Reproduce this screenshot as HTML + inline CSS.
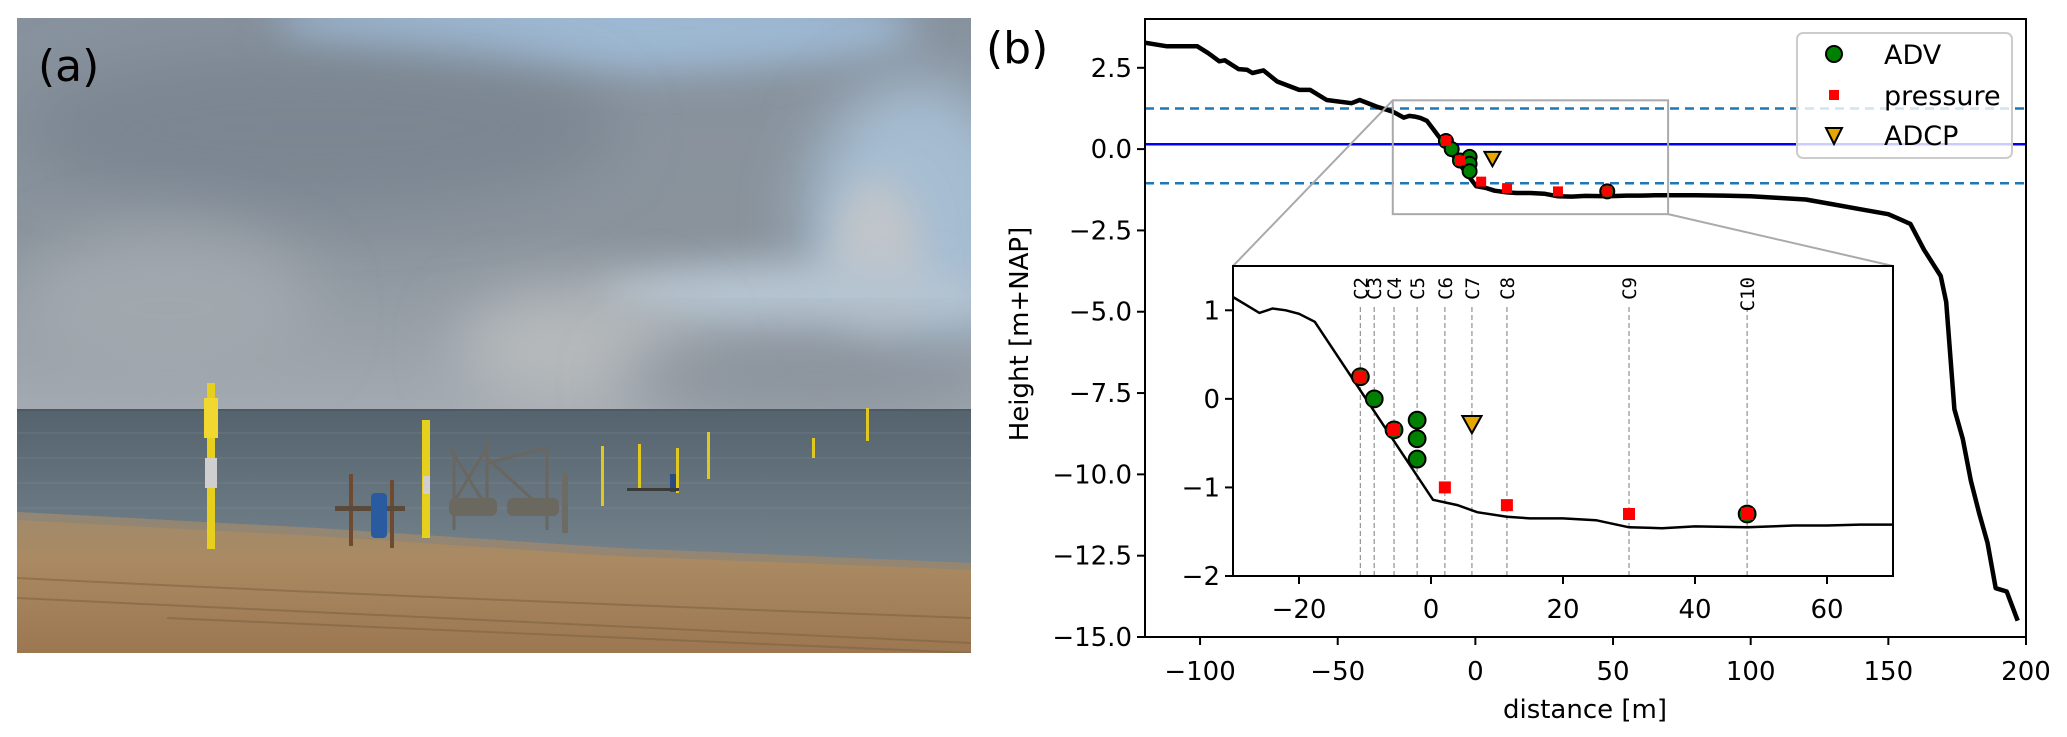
<!DOCTYPE html>
<html><head><meta charset="utf-8"><style>
html,body{margin:0;padding:0;background:#fff;width:2067px;height:737px;overflow:hidden;}
svg{display:block;font-family:"DejaVu Sans","Liberation Sans",sans-serif;}
</style></head><body>
<svg id="fig" width="2067" height="737" viewBox="0 0 2067 737" xmlns="http://www.w3.org/2000/svg">
<defs>
<linearGradient id="sky" x1="0" y1="0" x2="0" y2="1">
<stop offset="0" stop-color="#87929e"/><stop offset="0.55" stop-color="#8a939c"/><stop offset="1" stop-color="#a3aab1"/></linearGradient>
<linearGradient id="sea" x1="0" y1="0" x2="0" y2="1">
<stop offset="0" stop-color="#55636e"/><stop offset="1" stop-color="#76848e"/></linearGradient>
<linearGradient id="sand" x1="0" y1="0" x2="0" y2="1">
<stop offset="0" stop-color="#a08a6c"/><stop offset="0.35" stop-color="#aa8a62"/><stop offset="1" stop-color="#9c7751"/></linearGradient>
<filter id="blur" x="-50%" y="-50%" width="200%" height="200%"><feGaussianBlur stdDeviation="30"/></filter>
<filter id="blur2" x="-50%" y="-50%" width="200%" height="200%"><feGaussianBlur stdDeviation="18"/></filter>
<clipPath id="photoClip"><rect x="0" y="0" width="954" height="635"/></clipPath>
<clipPath id="mainClip"><rect x="1145" y="19" width="881" height="618"/></clipPath>
<clipPath id="insetClip"><rect x="1233" y="266" width="660" height="310"/></clipPath>
</defs>

<!-- Photo panel (a) -->
<g transform="translate(17,18)">
<g clip-path="url(#photoClip)">
<rect width="954" height="392" fill="url(#sky)"/>
<ellipse cx="580" cy="10" rx="320" ry="45" fill="#9db8d2" filter="url(#blur2)"/>
<ellipse cx="900" cy="200" rx="110" ry="140" fill="#a6bdd2" filter="url(#blur)"/>
<ellipse cx="860" cy="240" rx="45" ry="80" fill="#c0c5c9" filter="url(#blur2)"/>
<ellipse cx="780" cy="280" rx="200" ry="35" fill="#b5c4d1" filter="url(#blur2)"/>
<ellipse cx="560" cy="330" rx="120" ry="60" fill="#b5b9bc" filter="url(#blur)"/>
<ellipse cx="300" cy="110" rx="300" ry="80" fill="#7c8692" filter="url(#blur)"/>
<ellipse cx="150" cy="290" rx="150" ry="80" fill="#a0a7ad" filter="url(#blur)"/>
<ellipse cx="800" cy="360" rx="200" ry="40" fill="#8a939c" filter="url(#blur)"/>
<rect y="392" width="954" height="160" fill="url(#sea)"/>
<g stroke="#8694a0" stroke-width="1" opacity="0.35">
<line x1="0" y1="415" x2="954" y2="415"/><line x1="0" y1="440" x2="954" y2="440"/><line x1="0" y1="465" x2="954" y2="465"/><line x1="0" y1="490" x2="954" y2="490"/>
</g>
<line x1="0" y1="392" x2="954" y2="392" stroke="#4d5a64" stroke-width="2"/>
<polygon points="0,494 300,510 600,530 954,545 954,635 0,635" fill="url(#sand)"/>
<polygon points="0,494 300,510 600,530 954,545 954,552 600,538 300,518 0,502" fill="#8b8478" opacity="0.7"/>
<g fill="none" stroke="#7a5f40" stroke-width="2" opacity="0.5">
<path d="M0,560 Q400,580 954,600"/><path d="M0,580 Q400,600 954,625"/><path d="M150,600 Q500,615 954,635"/>
</g>
<!-- instruments -->
<rect x="190" y="365" width="8" height="166" fill="#e7cf1e"/>
<rect x="187" y="380" width="14" height="40" fill="#f0d830"/>
<rect x="188" y="440" width="12" height="30" fill="#cfcfcf"/>
<rect x="405" y="402" width="8" height="118" fill="#e7cf1e"/>
<rect x="406" y="458" width="7" height="18" fill="#cfcfcf"/>
<rect x="332" y="456" width="4" height="72" fill="#6d4a30"/>
<rect x="373" y="462" width="4" height="68" fill="#6d4a30"/>
<rect x="318" y="488" width="70" height="5" fill="#5a4a3a"/>
<rect x="354" y="475" width="16" height="45" rx="4" fill="#2a5aa0"/>
<g stroke="#6a6660" stroke-width="3" fill="none">
<path d="M433,430 L470,490 M470,430 L433,490 M470,445 L530,430 M470,440 L525,490"/>
<path d="M437,435 L437,512 M530,430 L530,512 M470,420 L470,480"/>
</g>
<rect x="432" y="480" width="48" height="18" rx="6" fill="#6b6860"/>
<rect x="490" y="480" width="52" height="18" rx="6" fill="#6b6860"/>
<rect x="545" y="455" width="6" height="60" fill="#6e6a64"/>
<rect x="584" y="428" width="3" height="60" fill="#e0c820"/>
<rect x="621" y="426" width="3" height="45" fill="#e0c820"/>
<rect x="659" y="430" width="3" height="45" fill="#e0c820"/>
<rect x="653" y="456" width="6" height="18" fill="#2a4a80"/>
<rect x="610" y="470" width="52" height="3" fill="#3a3a3a"/>
<rect x="690" y="414" width="3" height="47" fill="#e0c820"/>
<rect x="795" y="420" width="3" height="20" fill="#e0c820"/>
<rect x="849" y="390" width="3" height="33" fill="#e0c820"/>
</g>
<text x="21" y="63" font-size="44" fill="#000" font-family="DejaVu Sans, sans-serif">(a)</text>
</g>

<text x="986" y="63" font-size="44" fill="#000">(b)</text>
<g id="chart"></g>
</svg>
<script>
// ---- data ----
var profileX = [-120,-112,-101,-97,-93,-91,-86,-83,-81,-77,-72,-64,-60,-54,-45,-42,-36,-30,-26,-24,-22,-20,-17.6,0.3,4,7,11.5,15,20,25,30,35,40,48,55,60,65,70,80,90,100,110,120,130,140,150,158,163,166,169,171,174,177,180,183,186,189,193,197];
var profileY = [3.27,3.16,3.16,2.95,2.70,2.73,2.46,2.44,2.34,2.42,2.08,1.82,1.82,1.51,1.41,1.51,1.31,1.15,0.97,1.02,1.0,0.96,0.87,-1.14,-1.2,-1.28,-1.33,-1.35,-1.35,-1.37,-1.45,-1.46,-1.44,-1.45,-1.43,-1.43,-1.42,-1.42,-1.42,-1.43,-1.45,-1.5,-1.55,-1.7,-1.85,-2.0,-2.3,-3.1,-3.5,-3.9,-4.7,-8.0,-8.9,-10.2,-11.2,-12.1,-13.5,-13.6,-14.5];
var advX = [-10.7,-8.6,-5.6,-2.1,-2.1,-2.1,47.9];
var advY = [0.25,0.0,-0.35,-0.24,-0.45,-0.68,-1.3];
var pressX = [-10.7,-5.6,2.1,11.5,30,47.9];
var pressY = [0.25,-0.35,-1.0,-1.2,-1.3,-1.3];
var adcpX = [6.2];
var adcpY = [-0.28];
var stationNames = ["C2","C3","C4","C5","C6","C7","C8","C9","C10"];
var stationX = [-10.7,-8.6,-5.6,-2.1,2.1,6.2,11.5,30,47.9];
var waterLevel = [0.15];
var tideLevels = [1.25,-1.05];
var mainXTicks = [-100,-50,0,50,100,150,200];
var mainYTicks = [2.5,0,-2.5,-5,-7.5,-10,-12.5,-15];
var mainYLabels = ["2.5","0.0","\u22122.5","\u22125.0","\u22127.5","\u221210.0","\u221212.5","\u221215.0"];
var insetXTicks = [-20,0,20,40,60];
var insetYTicks = [1,0,-1,-2];
var zoomBox = [-30,70,-2,1.5];

// ---- scales ----
var M = {x0:1145,x1:2026,y0:19,y1:637,xmin:-120,xmax:200,ymin:-15,ymax:4};
var I = {x0:1233,x1:1893,y0:266,y1:576,xmin:-30,xmax:70,ymin:-2,ymax:1.5};
function sx(a,v){return a.x0+(v-a.xmin)*(a.x1-a.x0)/(a.xmax-a.xmin);}
function sy(a,v){return a.y1-(v-a.ymin)*(a.y1-a.y0)/(a.ymax-a.ymin);}
var NS="http://www.w3.org/2000/svg";
var chart=document.getElementById('chart');
function mk(tag,attrs,parent){var e=document.createElementNS(NS,tag);for(var k in attrs)e.setAttribute(k,attrs[k]);(parent||chart).appendChild(e);return e;}
function minus(v){return String(v).replace('-','\u2212');}

function drawMarkers(a,scaleK,grp){
  var r=7*scaleK, s=10*scaleK, t=8*scaleK;
  for(var i=0;i<advX.length;i++){
    var c=mk('circle',{cx:sx(a,advX[i]),cy:sy(a,advY[i]),r:r,fill:'#008000',stroke:'#000','stroke-width':2},grp);
    
    
  }
  for(var j=0;j<pressX.length;j++){
    var q=mk('rect',{x:sx(a,pressX[j])-s/2,y:sy(a,pressY[j])-s/2,width:s,height:s,fill:'#ff0000'},grp);
    
    
  }
  for(var k=0;k<adcpX.length;k++){
    var px=sx(a,adcpX[k]),py=sy(a,adcpY[k]);
    var tr=mk('polygon',{points:(px-t)+','+(py-t*0.8)+' '+(px+t)+','+(py-t*0.8)+' '+px+','+(py+t*1.0),fill:'#e6a800',stroke:'#000','stroke-width':2},grp);
    
    
  }
}
function profilePts(a){var p=[];for(var i=0;i<profileX.length;i++)p.push(sx(a,profileX[i]).toFixed(1)+','+sy(a,profileY[i]).toFixed(1));return p.join(' ');}

// ---- main axes ----
var mainG=mk('g',{});


var mclip=mk('g',{'clip-path':'url(#mainClip)'},mainG);
tideLevels.forEach(function(v){
  var l=mk('line',{x1:M.x0,x2:M.x1,y1:sy(M,v),y2:sy(M,v),stroke:'#1f77b4','stroke-width':2.5,'stroke-dasharray':'9,6'},mclip);
  
  
});
waterLevel.forEach(function(v){
  var l=mk('line',{x1:M.x0,x2:M.x1,y1:sy(M,v),y2:sy(M,v),stroke:'#0000ff','stroke-width':2.5},mclip);
  
  
});
var mline=mk('polyline',{points:profilePts(M),fill:'none',stroke:'#000','stroke-width':4.5,'stroke-linejoin':'round'},mclip);


drawMarkers(M,1,mclip);
var zb=mk('rect',{x:sx(M,zoomBox[0]),y:sy(M,zoomBox[3]),width:sx(M,zoomBox[1])-sx(M,zoomBox[0]),height:sy(M,zoomBox[2])-sy(M,zoomBox[3]),fill:'none',stroke:'#aaaaaa','stroke-width':2},mainG);


var c1=mk('line',{x1:sx(M,zoomBox[0]),y1:sy(M,zoomBox[3]),x2:I.x0,y2:I.y0,stroke:'#aaaaaa','stroke-width':2},mainG);


var c2=mk('line',{x1:sx(M,zoomBox[1]),y1:sy(M,zoomBox[2]),x2:I.x1,y2:I.y0,stroke:'#aaaaaa','stroke-width':2},mainG);


var ms=mk('rect',{x:M.x0,y:M.y0,width:M.x1-M.x0,height:M.y1-M.y0,fill:'none',stroke:'#000','stroke-width':2},mainG);


mainXTicks.forEach(function(v){
  var x=sx(M,v);
  mk('line',{x1:x,x2:x,y1:M.y1,y2:M.y1+8,stroke:'#000','stroke-width':2},mainG);
  var t=mk('text',{x:x,y:M.y1+43,'font-size':26,'text-anchor':'middle',fill:'#000'},mainG);
  t.textContent=minus(v);
  
  
});
mainYTicks.forEach(function(v,i){
  var y=sy(M,v);
  mk('line',{x1:M.x0-8,x2:M.x0,y1:y,y2:y,stroke:'#000','stroke-width':2},mainG);
  var t=mk('text',{x:M.x0-13,y:y+9,'font-size':26,'text-anchor':'end',fill:'#000'},mainG);
  t.textContent=mainYLabels[i];
  
  
});
var xl=mk('text',{x:1585,y:718,'font-size':26,'text-anchor':'middle',fill:'#000'},mainG);
xl.textContent='distance [m]';


var yl=mk('text',{x:0,y:0,'font-size':26,'text-anchor':'middle',fill:'#000',transform:'translate(1028,334) rotate(-90)'},mainG);
yl.textContent='Height [m+NAP]';



// ---- legend ----
var lg=mk('g',{});


mk('rect',{x:1797,y:33,width:215,height:125,rx:6,fill:'#fff','fill-opacity':0.8,stroke:'#cccccc','stroke-width':2},lg);
var le1=mk('circle',{cx:1834,cy:54,r:8,fill:'#008000',stroke:'#000','stroke-width':2},lg);


mk('rect',{x:1829,y:90,width:10,height:10,fill:'#ff0000'},lg);
mk('polygon',{points:'1826,128 1842,128 1834,144',fill:'#e6a800',stroke:'#000','stroke-width':2},lg);
var lt=[['ADV',64],['pressure',105],['ADCP',145]];
lt.forEach(function(p){
  var t=mk('text',{x:1884,y:p[1],'font-size':27,fill:'#000'},lg);
  t.textContent=p[0];
  
  
});

// ---- inset ----
var ig=mk('g',{});


mk('rect',{x:I.x0,y:I.y0,width:I.x1-I.x0,height:I.y1-I.y0,fill:'#fff'},ig);
var iclip=mk('g',{'clip-path':'url(#insetClip)'},ig);
stationX.forEach(function(v,i){
  var x=sx(I,v);
  var l=mk('line',{x1:x,x2:x,y1:I.y1,y2:I.y0+40,stroke:'#999','stroke-width':1.3,'stroke-dasharray':'5,3'},iclip);
  
  
  var t=mk('text',{x:0,y:0,'font-size':19,'font-family':'DejaVu Sans Mono, Liberation Mono, monospace','text-anchor':'end',fill:'#000',transform:'translate('+(x+7)+','+(I.y0+11)+') rotate(-90)'},iclip);
  t.textContent=stationNames[i];
  
  
});
var iline=mk('polyline',{points:profilePts(I),fill:'none',stroke:'#000','stroke-width':2.5},iclip);


drawMarkers(I,1.2,iclip);
var isp=mk('rect',{x:I.x0,y:I.y0,width:I.x1-I.x0,height:I.y1-I.y0,fill:'none',stroke:'#000','stroke-width':2},ig);


insetXTicks.forEach(function(v){
  var x=sx(I,v);
  mk('line',{x1:x,x2:x,y1:I.y1,y2:I.y1+8,stroke:'#000','stroke-width':2},ig);
  var t=mk('text',{x:x,y:I.y1+42,'font-size':26,'text-anchor':'middle',fill:'#000'},ig);
  t.textContent=minus(v);
  
  
});
insetYTicks.forEach(function(v){
  var y=sy(I,v);
  mk('line',{x1:I.x0-8,x2:I.x0,y1:y,y2:y,stroke:'#000','stroke-width':2},ig);
  var t=mk('text',{x:I.x0-13,y:y+9,'font-size':26,'text-anchor':'end',fill:'#000'},ig);
  t.textContent=minus(v);
  
  
});
</script>
</body></html>
